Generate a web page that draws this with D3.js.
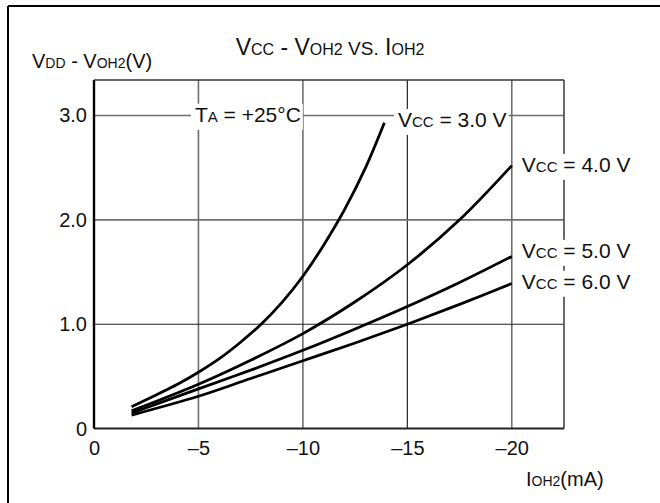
<!DOCTYPE html>
<html>
<head>
<meta charset="utf-8">
<script src="https://cdn.jsdelivr.net/npm/d3@7"></script>
<style>
  body { margin: 0; background: #fff; }
  text { font-family: "Liberation Sans", Arial, sans-serif; fill: #111; }
</style>
</head>
<body>
<svg id="chart" width="660" height="503"></svg>
<script>
// data (I in mA, V in volts)
const vcc30 = [[-1.8, 0.21], [-3, 0.325], [-4, 0.425], [-5, 0.54], [-6, 0.67], [-7, 0.825], [-8, 1.0], [-9, 1.21], [-10, 1.46], [-11, 1.76], [-12, 2.1], [-13, 2.5], [-13.9, 2.93]];
const vcc40 = [[-1.8, 0.17], [-5, 0.425], [-7.5, 0.655], [-10, 0.91], [-12.5, 1.215], [-15, 1.57], [-17.5, 2.0], [-20, 2.52]];
const vcc50 = [[-1.8, 0.15], [-5, 0.38], [-7.5, 0.56], [-10, 0.75], [-12.5, 0.955], [-15, 1.17], [-17.5, 1.4], [-20, 1.65]];
const vcc60 = [[-1.8, 0.13], [-5, 0.31], [-7.5, 0.48], [-10, 0.65], [-12.5, 0.82], [-15, 1.0], [-17.5, 1.19], [-20, 1.39]];

const xTicks = [0, -5, -10, -15, -20];
const yTicks = [0, 1, 2, 3];
const yTickLabels = ["0", "1.0", "2.0", "3.0"];

// label anchors in data units (left edge, baseline)
const curveLabels = [
  { main: "V", sub: "CC", rest: " = 3.0 V", at: [-14.55, 2.89] },
  { main: "V", sub: "CC", rest: " = 4.0 V", at: [-20.48, 2.46] },
  { main: "V", sub: "CC", rest: " = 5.0 V", at: [-20.48, 1.636] },
  { main: "V", sub: "CC", rest: " = 6.0 V", at: [-20.48, 1.34] }
];
const tempLabel = { main: "T", sub: "A", rest: " = +25\u00b0C", at: [-4.83, 2.94] };

const svg = d3.select("#chart");
const margin = { top: 80, bottom: 74.4, left: 94, right: 96 };
const width = 660, height = 503;

const x = d3.scaleLinear().domain([0, -22.5]).range([margin.left, width - margin.right]);
const y = d3.scaleLinear().domain([0, 3.34]).range([height - margin.bottom, margin.top]);

// page frame (top and left rule)
svg.append("line").attr("x1", 8).attr("x2", 660).attr("y1", 6).attr("y2", 6)
  .attr("stroke", "#000").attr("stroke-width", 2);
svg.append("line").attr("x1", 8).attr("x2", 8).attr("y1", 6).attr("y2", 503)
  .attr("stroke", "#000").attr("stroke-width", 2);

// grid
const gridDark = "#222", gridGray = "#6e6e6e";
svg.append("g").selectAll("line")
  .data(xTicks.slice(1))
  .join("line")
  .attr("x1", d => x(d)).attr("x2", d => x(d))
  .attr("y1", y.range()[1]).attr("y2", y.range()[0])
  .attr("stroke", d => d === -15 ? gridDark : gridGray)
  .attr("stroke-width", d => d === -15 ? 1.2 : 1.6);

svg.append("g").selectAll("line")
  .data(yTicks.slice(1))
  .join("line")
  .attr("x1", x.range()[0]).attr("x2", x.range()[1])
  .attr("y1", d => y(d)).attr("y2", d => y(d))
  .attr("stroke", d => d === 1 ? gridDark : gridGray)
  .attr("stroke-width", d => d === 1 ? 1.2 : 1.6);

// plot border
svg.append("line").attr("x1", x.range()[0]).attr("x2", x.range()[1])
  .attr("y1", y.range()[1]).attr("y2", y.range()[1]).attr("stroke", "#333").attr("stroke-width", 1.4);
svg.append("line").attr("x1", x.range()[1]).attr("x2", x.range()[1])
  .attr("y1", y.range()[1]).attr("y2", y.range()[0]).attr("stroke", "#444").attr("stroke-width", 1.6);
svg.append("line").attr("x1", x.range()[0]).attr("x2", x.range()[1])
  .attr("y1", y.range()[0]).attr("y2", y.range()[0]).attr("stroke", "#222").attr("stroke-width", 2);
svg.append("line").attr("x1", x.range()[0]).attr("x2", x.range()[0])
  .attr("y1", y.range()[1]).attr("y2", y.range()[0]).attr("stroke", "#000").attr("stroke-width", 2.4);

// axes (labels only)
const xAxis = d3.axisBottom(x).tickValues(xTicks).tickSize(0).tickPadding(12)
  .tickFormat(d => d === 0 ? "0" : "\u2013" + Math.abs(d));
svg.append("g")
  .attr("transform", `translate(0, ${y.range()[0]})`)
  .call(xAxis)
  .call(g => g.select(".domain").remove())
  .selectAll("text").style("font-size", "20px").style("font-family", "Liberation Sans, Arial, sans-serif").attr("fill", "#111");

const yAxis = d3.axisLeft(y).tickValues(yTicks).tickSize(0).tickPadding(7)
  .tickFormat((d, i) => yTickLabels[i]);
svg.append("g")
  .attr("transform", `translate(${x.range()[0]}, 0)`)
  .call(yAxis)
  .call(g => g.select(".domain").remove())
  .selectAll("text").style("font-size", "20px").style("font-family", "Liberation Sans, Arial, sans-serif").attr("fill", "#111");

// curves
const line = d3.line().x(d => x(d[0])).y(d => y(d[1])).curve(d3.curveCatmullRom.alpha(0.5));
svg.append("g").selectAll("path")
  .data([vcc30, vcc40, vcc50, vcc60])
  .join("path")
  .attr("d", line)
  .attr("fill", "none")
  .attr("stroke", "#000")
  .attr("stroke-width", 2.8);

// helper: text with small-caps subscript, white box behind it
function label(g, lab, big, small) {
  const t = g.append("text")
    .attr("x", x(lab.at[0])).attr("y", y(lab.at[1]))
    .style("font-size", big + "px");
  t.append("tspan").text(lab.main);
  t.append("tspan").style("font-size", small + "px").text(lab.sub);
  t.append("tspan").text(lab.rest);
  const b = t.node().getBBox();
  g.insert("rect", "text")
    .attr("x", b.x - 4).attr("y", b.y + 1)
    .attr("width", b.width + 6).attr("height", b.height + 3)
    .attr("fill", "#fff");
}

const labG = svg.append("g");
curveLabels.forEach(l => label(labG.append("g"), l, 21, 15));
label(labG.append("g"), tempLabel, 21, 15);

// titles
const title = svg.append("text").attr("x", 330).attr("y", 55)
  .attr("text-anchor", "middle").style("font-size", "23px");
title.append("tspan").text("V");
title.append("tspan").style("font-size", "16px").text("CC");
title.append("tspan").text(" - V");
title.append("tspan").style("font-size", "16px").text("OH2");
title.append("tspan").style("font-size", "19px").text(" VS.");
title.append("tspan").text(" I");
title.append("tspan").style("font-size", "16px").text("OH2");

const yTitle = svg.append("text").attr("x", 32).attr("y", 68).style("font-size", "20px");
yTitle.append("tspan").text("V");
yTitle.append("tspan").style("font-size", "14px").text("DD");
yTitle.append("tspan").text(" - V");
yTitle.append("tspan").style("font-size", "14px").text("OH2");
yTitle.append("tspan").text("(V)");

const xTitle = svg.append("text").attr("x", 526).attr("y", 486).style("font-size", "20px");
xTitle.append("tspan").text("I");
xTitle.append("tspan").style("font-size", "14px").text("OH2");
xTitle.append("tspan").text("(mA)");
</script>
</body>
</html>
